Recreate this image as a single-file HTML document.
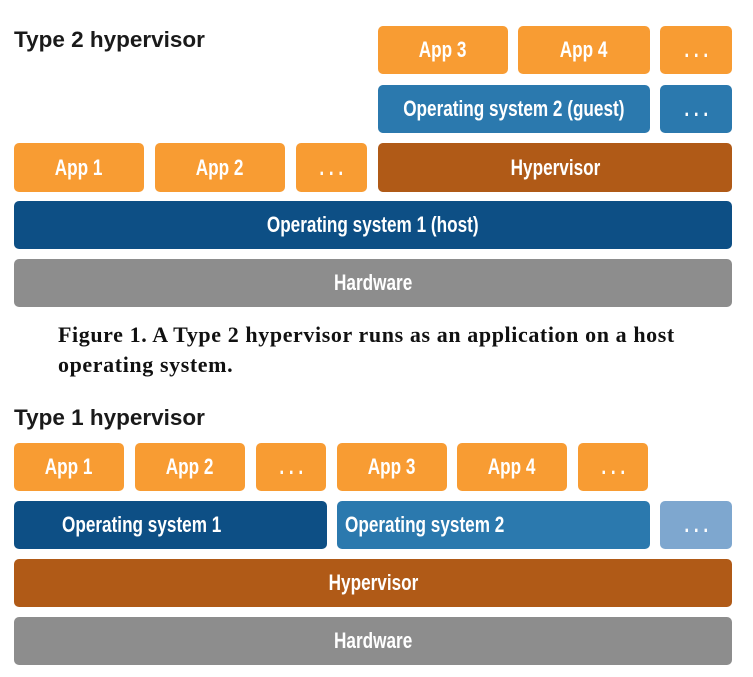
<!DOCTYPE html>
<html><head><style>
body{margin:0;width:753px;height:677px;background:#fff;position:relative;overflow:hidden;font-family:"Liberation Sans",sans-serif}
.b{position:absolute;border-radius:5px;color:#fff;font-weight:bold;font-size:22px;display:flex;align-items:center;justify-content:center;}
.b span{display:inline-block;transform:scaleX(0.78);white-space:nowrap}
.o{background:#f89c33}.d{background:#0d4f85}.m{background:#2b79ae}.h{background:#b05a17}.g{background:#8d8d8d}.l{background:#7ea7cf}
.t{position:absolute;font-weight:bold;font-size:22.5px;color:#1a1a1a;left:14px}
.cap{position:absolute;left:58px;top:320px;font-family:"Liberation Serif",serif;font-weight:bold;font-size:22px;letter-spacing:0.6px;line-height:30px;color:#111;white-space:nowrap}
</style></head><body>
<div class="t" style="top:27px">Type 2 hypervisor</div>
<div class="b o" style="left:378px;top:26px;width:130px;height:48px"><span>App 3</span></div>
<div class="b o" style="left:518px;top:26px;width:132px;height:48px"><span>App 4</span></div>
<div class="b o" style="left:660px;top:26px;width:72px;height:48px"><span>. . .</span></div>
<div class="b m" style="left:378px;top:85px;width:272px;height:48px"><span>Operating system 2 (guest)</span></div>
<div class="b m" style="left:660px;top:85px;width:72px;height:48px"><span>. . .</span></div>
<div class="b o" style="left:14px;top:143px;width:130px;height:49px"><span>App 1</span></div>
<div class="b o" style="left:155px;top:143px;width:130px;height:49px"><span>App 2</span></div>
<div class="b o" style="left:296px;top:143px;width:71px;height:49px"><span>. . .</span></div>
<div class="b h" style="left:378px;top:143px;width:354px;height:49px"><span>Hypervisor</span></div>
<div class="b d" style="left:14px;top:201px;width:718px;height:48px"><span>Operating system 1 (host)</span></div>
<div class="b g" style="left:14px;top:259px;width:718px;height:48px"><span>Hardware</span></div>
<div class="cap">Figure 1. A Type 2 hypervisor runs as an application on a host<br>operating system.</div>
<div class="t" style="top:405px">Type 1 hypervisor</div>
<div class="b o" style="left:14px;top:443px;width:110px;height:48px"><span>App 1</span></div>
<div class="b o" style="left:135px;top:443px;width:110px;height:48px"><span>App 2</span></div>
<div class="b o" style="left:256px;top:443px;width:70px;height:48px"><span>. . .</span></div>
<div class="b o" style="left:337px;top:443px;width:110px;height:48px"><span>App 3</span></div>
<div class="b o" style="left:457px;top:443px;width:110px;height:48px"><span>App 4</span></div>
<div class="b o" style="left:578px;top:443px;width:70px;height:48px"><span>. . .</span></div>
<div class="b d" style="left:14px;top:501px;width:313px;height:48px;justify-content:flex-start"><span style="transform-origin:left;margin-left:48px">Operating system 1</span></div>
<div class="b m" style="left:337px;top:501px;width:313px;height:48px;justify-content:flex-start"><span style="transform-origin:left;margin-left:8px">Operating system 2</span></div>
<div class="b l" style="left:660px;top:501px;width:72px;height:48px"><span>. . .</span></div>
<div class="b h" style="left:14px;top:559px;width:718px;height:48px"><span>Hypervisor</span></div>
<div class="b g" style="left:14px;top:617px;width:718px;height:48px"><span>Hardware</span></div>
</body></html>
